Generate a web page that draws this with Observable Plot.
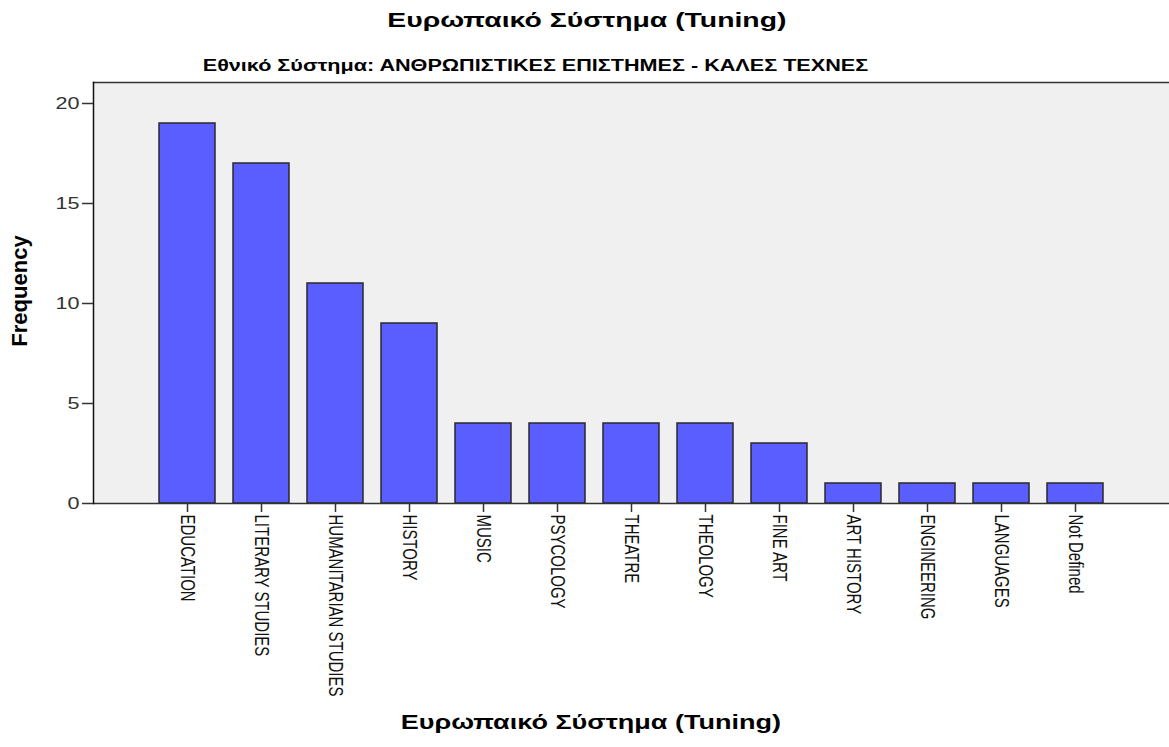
<!DOCTYPE html>
<html>
<head>
<meta charset="utf-8">
<script src="https://cdn.jsdelivr.net/npm/d3@7"></script>
<script src="https://cdn.jsdelivr.net/npm/@observablehq/plot@0.6"></script>
<style>
  body { margin: 0; background: #fff; width: 1169px; height: 747px; overflow: hidden; position: relative; font-family: "Liberation Sans", Arial, sans-serif; }
  .ttl { position: absolute; width: 1169px; text-align: center; font-weight: bold; color: #000; white-space: nowrap; }
  .ttl span { display: inline-block; transform: scaleX(1.35); transform-origin: 50% 50%; }
  #title { top: 6px; left: 2px; font-size: 21px; line-height: 28px; }
  #subtitle { top: 55px; left: -49px; font-size: 16px; line-height: 22px; }
  #xtitle { top: 708px; left: 6px; font-size: 20px; line-height: 28px; }
  #chart { position: absolute; top: 0; left: 0; }
  svg text { font-family: "Liberation Sans", Arial, sans-serif; }
</style>
</head>
<body>
<div id="chart"></div>
<div class="ttl" id="title"><span>Ευρωπαικό Σύστημα (Tuning)</span></div>
<div class="ttl" id="subtitle"><span>Εθνικό Σύστημα: ΑΝΘΡΩΠΙΣΤΙΚΕΣ ΕΠΙΣΤΗΜΕΣ - ΚΑΛΕΣ ΤΕΧΝΕΣ</span></div>
<div class="ttl" id="xtitle"><span>Ευρωπαικό Σύστημα (Tuning)</span></div>
<script>
const categories = ["EDUCATION","LITERARY STUDIES","HUMANITARIAN STUDIES","HISTORY","MUSIC","PSYCOLOGY","THEATRE","THEOLOGY","FINE ART","ART HISTORY","ENGINEERING","LANGUAGES","Not Defined"];
const frequency = [19,17,11,9,4,4,4,4,3,1,1,1,1];
const yTicks = [0,5,10,15,20];

const data = categories.map((c, i) => ({category: c, value: frequency[i]}));

const chart = Plot.plot({
  width: 1169,
  height: 747,
  marginLeft: 93,
  marginRight: 0,
  marginTop: 82,
  marginBottom: 244,
  style: {background: "transparent", color: "#000", overflow: "visible"},
  x: {domain: categories, paddingInner: 0.25, paddingOuter: 0.855, label: null},
  y: {domain: [0, 21.05], label: null},
  marks: [
    Plot.frame({fill: "#f0f0f0", stroke: null}),
    Plot.barY(data, {x: "category", y: "value", fill: "#5a5eff", stroke: "#2a2a2a", strokeWidth: 1.5}),
    Plot.ruleY([0], {stroke: "#333", strokeWidth: 1.5}),
    Plot.frame({anchor: "top", stroke: "#333", strokeWidth: 1.5}),
    Plot.frame({anchor: "left", stroke: "#111", strokeWidth: 1.5}),
    Plot.axisY({ticks: yTicks, tickSize: 11, tickPadding: 3, fontSize: 16, tickFormat: d => d, stroke: "#333", strokeWidth: 1.5, fill: "#333", label: null}),
    Plot.axisX({tickRotate: 90, tickSize: 9, tickPadding: 2, fontSize: 15, stroke: "#333", strokeWidth: 1.5, fill: "#111", label: null}),
    Plot.text(["Frequency"], {frameAnchor: "left", textAnchor: "middle", dx: -74, dy: -2, rotate: -90, fontSize: 22, fontWeight: "bold", fill: "#000"})
  ]
});
document.getElementById("chart").appendChild(chart);

// emulate the horizontally stretched rendering of the original image
const svg = d3.select(chart);
svg.selectAll('g[aria-label="x-axis tick label"] text').each(function() {
  const t = this.getAttribute("transform") || "";
  this.setAttribute("transform", t + " scale(1,1.35)");
});
svg.selectAll('g[aria-label="y-axis tick label"] text').each(function() {
  const t = this.getAttribute("transform") || "";
  this.setAttribute("transform", t + " scale(1.35,1)");
});
</script>
</body>
</html>
